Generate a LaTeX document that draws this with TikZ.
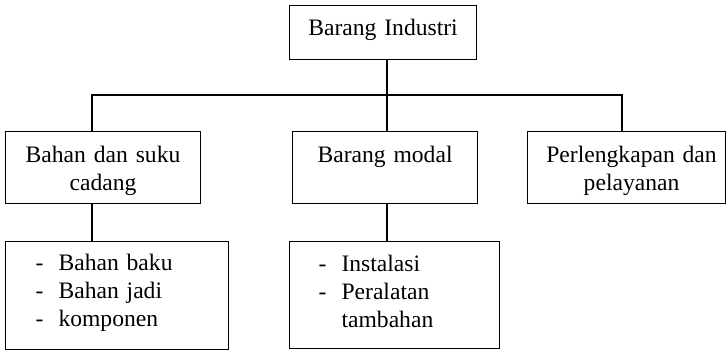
\documentclass[tikz,border=0pt]{standalone}
\usepackage{fontspec}
\setmainfont{Liberation Serif}
\usetikzlibrary{positioning}

\tikzset{
  box/.style={draw, line width=0.55pt, inner xsep=0pt, inner ysep=0pt,
    anchor=north west, align=center, font=\fontsize{11.8}{14}\selectfont},
  listbox/.style={box, align=left, inner xsep=15pt},
  link/.style={line width=0.55pt},
}
\newcommand{\itm}{\makebox[11.5pt][l]{-}}

\begin{document}
\begin{tikzpicture}[x=0.5pt,y=-0.5pt]
  \useasboundingbox (0,0) rectangle (726,350);

  % boxes
  \node[box, text width=93.5pt, text height=15pt, text depth=12pt] (industri) at (289,5) {Barang Industri};

  \node[box, text width=97.5pt, text height=15.5pt, text depth=20.5pt] (bahan) at (5,131) {Bahan dan suku\\cadang};
  \node[box, text width=92.5pt, text height=15.5pt, text depth=20.5pt] (modal) at (292,131) {Barang modal};
  \node[box, text width=99pt, text height=15.5pt, text depth=20.5pt] (perlengkapan) at (527,131)
    {\hspace*{5pt}Perlengkapan dan\\\hspace*{5pt}pelayanan};

  \node[listbox, text width=81.5pt, text height=14.5pt, text depth=39.5pt] (bahanlist) at (5,241)
    {\itm Bahan baku\\\itm Bahan jadi\\\itm komponen};
  \node[listbox, inner xsep=14.5pt, text width=76pt, text height=15pt, text depth=38.5pt] (modallist) at (289,241)
    {\itm Instalasi\\\itm Peralatan\\\hspace*{11.5pt}tambahan};

  % connectors
  \coordinate (jL) at (92,95);
  \coordinate (jM) at (387,95);
  \coordinate (jR) at (622,95);

  \draw[link] (jM |- industri.south) -- (jM);
  \draw[link] (jL |- bahan.north) -- (jL) -- (jR) -- (jR |- perlengkapan.north);
  \draw[link] (jM) -- (jM |- modal.north);
  \draw[link] (jL |- bahan.south) -- (jL |- bahanlist.north);
  \draw[link] (jM |- modal.south) -- (jM |- modallist.north);
\end{tikzpicture}
\end{document}
